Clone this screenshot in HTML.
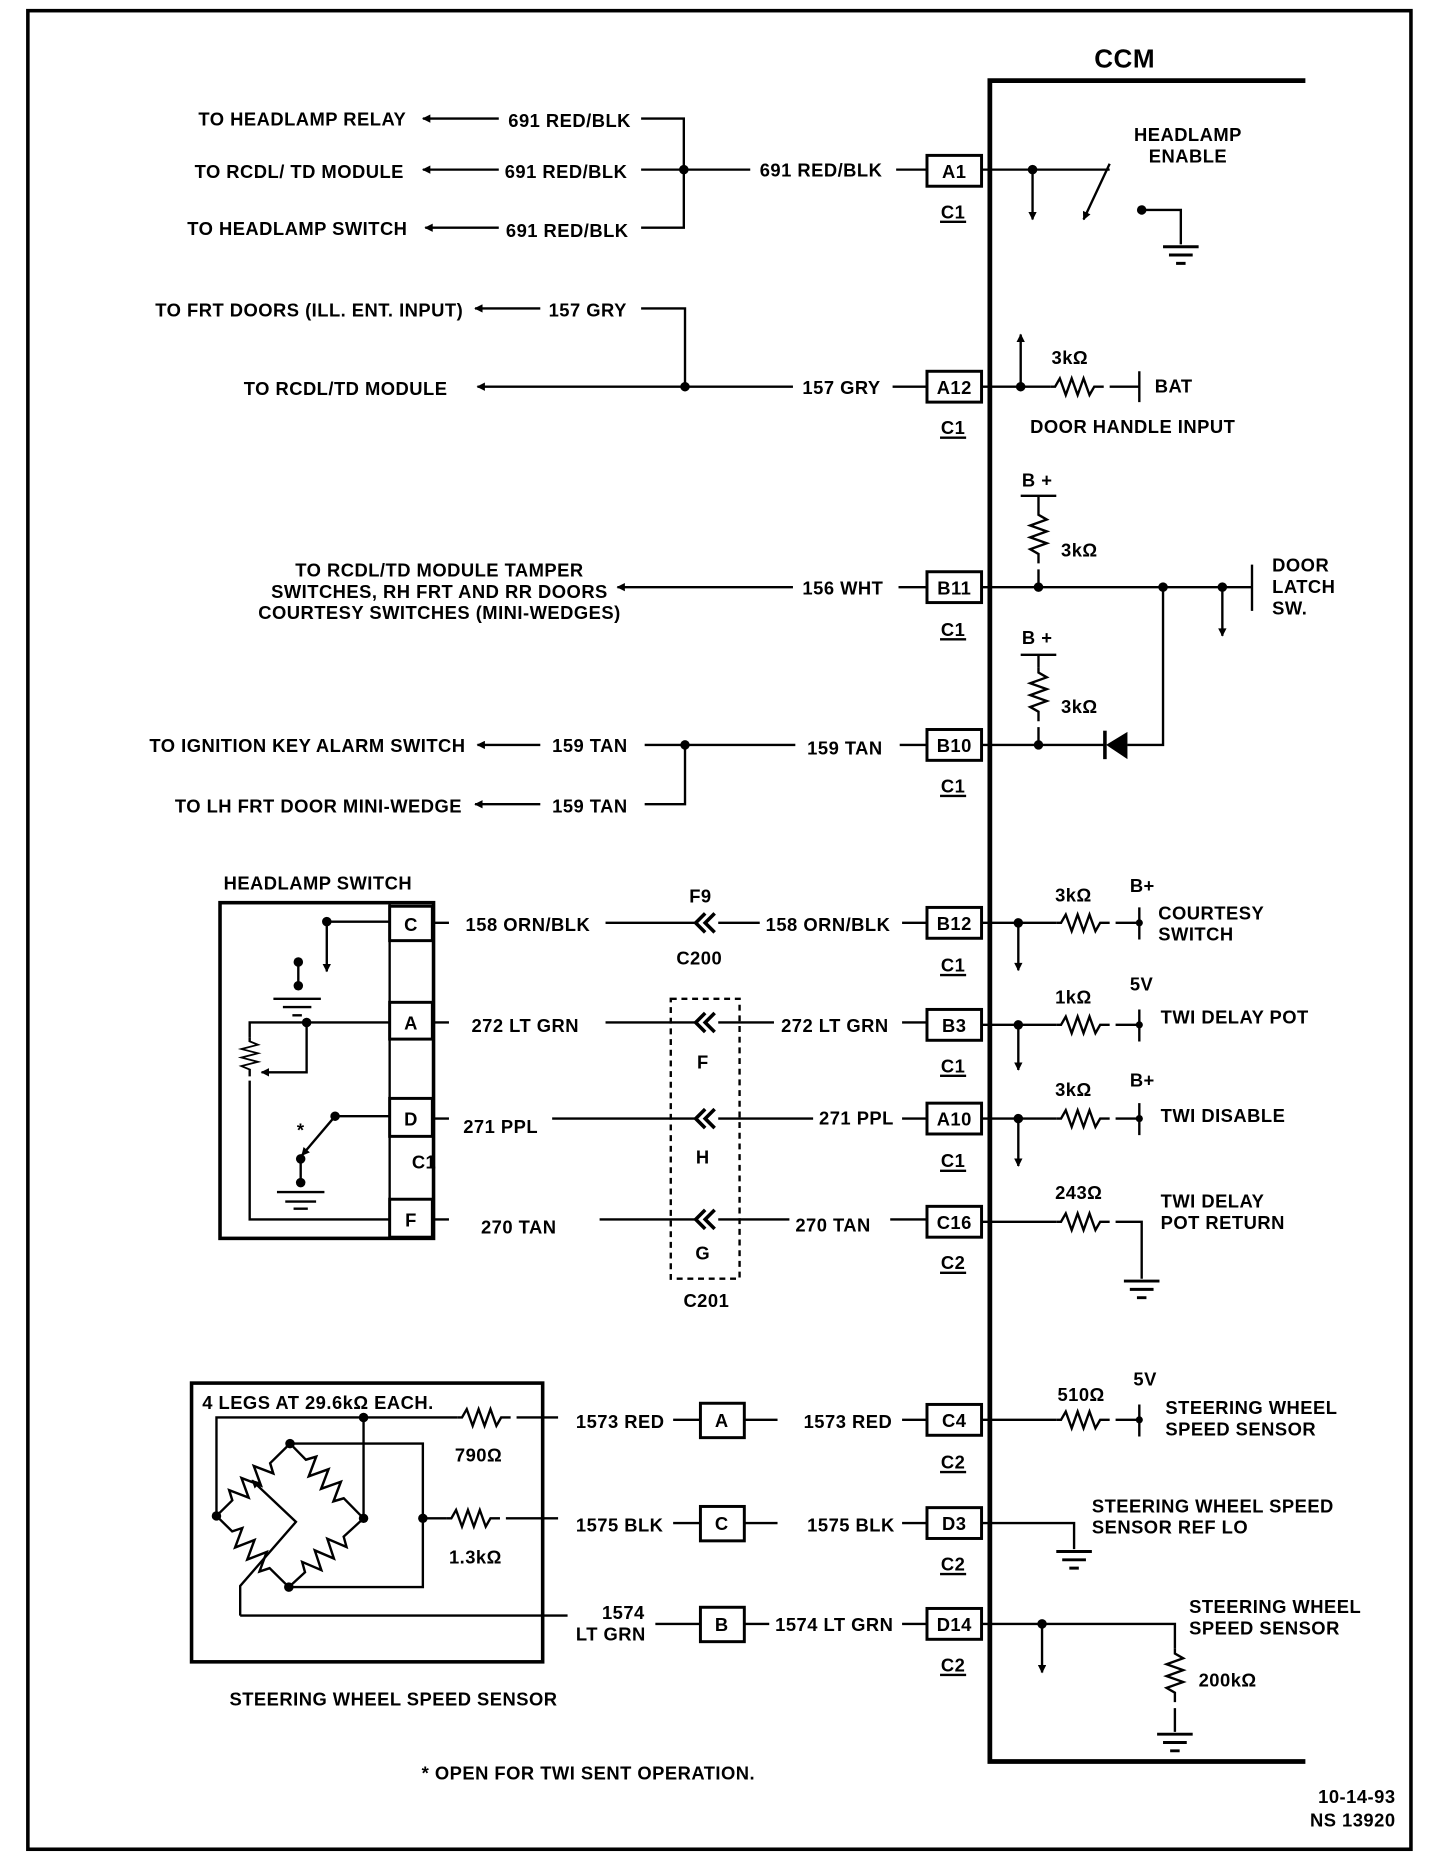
<!DOCTYPE html>
<html><head><meta charset="utf-8"><style>
html,body{margin:0;padding:0;background:#fff;}
svg{display:block;}
text{font-family:"Liberation Sans",sans-serif;font-weight:bold;font-size:15.5px;letter-spacing:0.4px;fill:#000;}
</style></head><body>
<svg width="1440" height="1854" viewBox="0 0 1213 1563" xmlns="http://www.w3.org/2000/svg">
<defs>
<marker id="ar" viewBox="0 0 10 10" refX="9" refY="5" markerWidth="9" markerHeight="7" orient="auto" markerUnits="userSpaceOnUse"><path d="M0 0L10 5L0 10z" fill="#000"/></marker>
<path id="zz" d="M0 0h4l4-7l5 14l5-14l5 14l5-14l5 14l4-7h8" fill="none" stroke="#000" stroke-width="2"/>
<path id="zl" d="M0 0h18l4-8l7 16l7-16l7 16l7-16l7 16l4-8h20" fill="none" stroke="#000" stroke-width="2"/>
<g id="gnd"><path d="M-15 0h30M-10 7h20M-4 14h8" stroke="#000" stroke-width="2.5"/></g>
<path id="chev" d="M10-8l-8 8l8 8M18-8l-8 8l8 8" fill="none" stroke="#000" stroke-width="3"/>
</defs>
<rect x="0" y="0" width="1213" height="1563" fill="#fff"/>
<rect x="23" y="9" width="1166" height="1550" fill="none" stroke="#000" stroke-width="3"/>
<g stroke="#000" stroke-width="2" fill="none">
<path d="M1100 68H834V1485H1100" stroke-width="4"/>
</g>
<text x="922" y="57" style="font-size:22px">CCM</text>

<g stroke="#000" stroke-width="2" fill="none">
<path d="M420 100H356" marker-end="url(#ar)"/>
<path d="M420 143H356" marker-end="url(#ar)"/>
<path d="M420 192H358" marker-end="url(#ar)"/>
<path d="M540 100H576V192H540M540 143H632M755 143H780"/>
<path d="M828 143H935"/>
<path d="M870 143V185" marker-end="url(#ar)"/>
<path d="M935 138L913 185" marker-end="url(#ar)"/>
<path d="M962 177H995V206"/>
<path d="M455 260H400" marker-end="url(#ar)"/>
<path d="M540 260H577V326M668 326H402" marker-end="url(#ar)"/>
<path d="M752 326H780M828 326H885M935 326H960M960 313V339"/>
<path d="M860 326V282" marker-end="url(#ar)"/>
<path d="M668 495H520" marker-end="url(#ar)"/>
<path d="M757 495H780M828 495H1055M1055 476V515M980 495V628H950"/>
<path d="M860 418H890M875 418V430M875 480V495"/>
<path d="M1030 495V536" marker-end="url(#ar)"/>
<path d="M455 628H402" marker-end="url(#ar)"/>
<path d="M455 678H400" marker-end="url(#ar)"/>
<path d="M543 628H670M543 678H577V628M758 628H780M828 628H932"/>
<path d="M860 552H890M875 552V563M875 613V628"/>
</g>
<path d="M950 617V640L932 628Z" fill="#000"/>
<path d="M931 616V640" stroke="#000" stroke-width="3"/>
<use href="#zz" transform="translate(885 326)"/>
<use href="#zz" transform="translate(875 430) rotate(90)"/>
<use href="#zz" transform="translate(875 563) rotate(90)"/>
<use href="#gnd" transform="translate(995 208)"/>
<g fill="#000">
<circle cx="576" cy="143" r="4"/><circle cx="870" cy="143" r="4"/><circle cx="962" cy="177" r="4"/>
<circle cx="577" cy="326" r="4"/><circle cx="860" cy="326" r="4"/>
<circle cx="875" cy="495" r="4"/><circle cx="980" cy="495" r="4"/><circle cx="1030" cy="495" r="4"/>
<circle cx="577" cy="628" r="4"/><circle cx="875" cy="628" r="4"/>
</g>
<text x="342" y="106" text-anchor="end">TO HEADLAMP RELAY</text>
<text x="340" y="150" text-anchor="end">TO RCDL/ TD  MODULE</text>
<text x="343" y="198" text-anchor="end">TO HEADLAMP SWITCH</text>
<text x="428" y="107">691 RED/BLK</text>
<text x="425" y="150">691 RED/BLK</text>
<text x="426" y="200">691 RED/BLK</text>
<text x="640" y="149">691 RED/BLK</text>
<text x="1001" y="119" text-anchor="middle">HEADLAMP</text>
<text x="1001" y="137" text-anchor="middle">ENABLE</text>
<text x="390" y="267" text-anchor="end">TO FRT DOORS (ILL. ENT. INPUT)</text>
<text x="462" y="267">157 GRY</text>
<text x="205" y="333">TO RCDL/TD MODULE</text>
<text x="676" y="332">157 GRY</text>
<text x="886" y="307">3kΩ</text>
<text x="973" y="331">BAT</text>
<text x="868" y="365">DOOR HANDLE INPUT</text>
<text x="370" y="486" text-anchor="middle">TO RCDL/TD MODULE TAMPER</text>
<text x="370" y="504" text-anchor="middle">SWITCHES, RH FRT AND RR DOORS</text>
<text x="370" y="522" text-anchor="middle">COURTESY SWITCHES (MINI-WEDGES)</text>
<text x="676" y="501">156 WHT</text>
<text x="861" y="410">B +</text>
<text x="894" y="469">3kΩ</text>
<text x="1072" y="482">DOOR</text>
<text x="1072" y="500">LATCH</text>
<text x="1072" y="518">SW.</text>
<text x="392" y="634" text-anchor="end">TO IGNITION KEY ALARM SWITCH</text>
<text x="465" y="634">159 TAN</text>
<text x="389" y="685" text-anchor="end">TO LH FRT DOOR MINI-WEDGE</text>
<text x="465" y="685">159 TAN</text>
<text x="680" y="636">159 TAN</text>
<text x="861" y="543">B +</text>
<text x="894" y="601">3kΩ</text>

<g fill="#fff" stroke="#000" stroke-width="2.5">
<rect x="781" y="131" width="46" height="26"/>
<rect x="781" y="313" width="46" height="26"/>
<rect x="781" y="482" width="46" height="26"/>
<rect x="781" y="615" width="46" height="26"/>
<rect x="781" y="765" width="46" height="26"/>
<rect x="781" y="851" width="46" height="26"/>
<rect x="781" y="930" width="46" height="26"/>
<rect x="781" y="1017" width="46" height="26"/>
<rect x="781" y="1184" width="46" height="26"/>
<rect x="781" y="1271" width="46" height="26"/>
<rect x="781" y="1356" width="46" height="26"/>
</g>
<g text-anchor="middle">
<text x="804" y="150">A1</text><text x="804" y="332">A12</text><text x="804" y="501">B11</text><text x="804" y="634">B10</text>
<text x="804" y="784">B12</text><text x="804" y="870">B3</text><text x="804" y="949">A10</text><text x="804" y="1036">C16</text>
<text x="804" y="1203">C4</text><text x="804" y="1290">D3</text><text x="804" y="1375">D14</text>
<text x="803" y="184">C1</text><text x="803" y="366">C1</text>
<text x="803" y="536">C1</text><text x="803" y="668">C1</text>
<text x="803" y="819">C1</text><text x="803" y="904">C1</text>
<text x="803" y="984">C1</text><text x="803" y="1070">C2</text>
<text x="803" y="1238">C2</text><text x="803" y="1324">C2</text>
<text x="803" y="1409">C2</text>
</g>
<g stroke="#000" stroke-width="2"><path d="M792 187h22M792 369h22M792 539h22M792 671h22M792 822h22M792 907h22M792 987h22M792 1073h22M792 1241h22M792 1327h22M792 1412h22"/></g>

<text x="188" y="750">HEADLAMP SWITCH</text>
<rect x="185" y="761" width="180" height="283" fill="none" stroke="#000" stroke-width="3"/>
<g stroke="#000" stroke-width="2" fill="none">
<path d="M328 761V1044"/>
<path d="M328 777H275"/>
<path d="M275 777V819" marker-end="url(#ar)"/>
<path d="M251 811V831M230 842h40M238 849h24M246 856h8"/>
<path d="M328 862H210V875M210 911V1028H328"/>
<path d="M258 862V904H220" marker-end="url(#ar)"/>
<path d="M328 941H282"/>
<path d="M282 941L254 974" marker-end="url(#ar)"/>
<path d="M253 977V997M233 1005h40M240 1013h26M247 1019h12"/>
</g>
<use href="#zz" transform="translate(210 875) rotate(90) scale(0.72 1)"/>
<g fill="#000"><circle cx="275" cy="777" r="4"/><circle cx="251" cy="811" r="4"/><circle cx="251" cy="831" r="4"/><circle cx="258" cy="862" r="4"/><circle cx="282" cy="941" r="4"/><circle cx="253" cy="977" r="4"/><circle cx="253" cy="997" r="4"/></g>
<text x="253" y="958" text-anchor="middle">*</text>
<g fill="#fff" stroke="#000" stroke-width="2.5">
<rect x="328" y="764" width="36" height="29"/><rect x="328" y="845" width="36" height="31"/>
<rect x="328" y="926" width="36" height="32"/><rect x="328" y="1011" width="36" height="32"/>
</g>
<g text-anchor="middle"><text x="346" y="785">C</text><text x="346" y="868">A</text><text x="346" y="949">D</text><text x="346" y="1034">F</text></g>
<text x="357" y="985" text-anchor="middle">C1</text>
<g stroke="#000" stroke-width="2" fill="none">
<path d="M364 778H378M510 778H586M605 778H640M760 778H780"/>
<path d="M364 862H378M510 862H586M605 862H652M760 862H780"/>
<path d="M364 943H378M465 943H586M605 943H685M760 943H780"/>
<path d="M364 1028H378M505 1028H586M605 1028H665M750 1028H780"/>
<rect x="565" y="842" width="58" height="236" stroke-dasharray="5 4"/>
</g>
<use href="#chev" transform="translate(584 778)"/><use href="#chev" transform="translate(584 862)"/>
<use href="#chev" transform="translate(584 943)"/><use href="#chev" transform="translate(584 1028)"/>
<text x="392" y="785">158 ORN/BLK</text><text x="645" y="785">158 ORN/BLK</text>
<text x="590" y="761" text-anchor="middle">F9</text><text x="589" y="813" text-anchor="middle">C200</text>
<text x="397" y="870">272 LT GRN</text><text x="658" y="870">272 LT GRN</text>
<text x="390" y="955">271 PPL</text><text x="690" y="948">271 PPL</text>
<text x="405" y="1040">270 TAN</text><text x="670" y="1038">270 TAN</text>
<g text-anchor="middle"><text x="592" y="901">F</text><text x="592" y="981">H</text><text x="592" y="1062">G</text><text x="595" y="1102">C201</text></g>

<g stroke="#000" stroke-width="2" fill="none">
<path d="M828 778H890M940 778H960M960 765V792"/>
<path d="M828 864H890M940 864H960M960 851V878"/>
<path d="M828 943H890M940 943H960M960 930V957"/>
<path d="M828 1030H890M940 1030H962V1078"/>
<path d="M858 778V818" marker-end="url(#ar)"/>
<path d="M858 864V902" marker-end="url(#ar)"/>
<path d="M858 943V983" marker-end="url(#ar)"/>
</g>
<use href="#zz" transform="translate(890 778)"/><use href="#zz" transform="translate(890 864)"/>
<use href="#zz" transform="translate(890 943)"/><use href="#zz" transform="translate(890 1030)"/>
<use href="#gnd" transform="translate(962 1080)"/>
<g fill="#000"><circle cx="858" cy="778" r="4"/><circle cx="858" cy="864" r="4"/><circle cx="858" cy="943" r="4"/><circle cx="960" cy="778" r="3"/><circle cx="960" cy="864" r="3"/><circle cx="960" cy="943" r="3"/></g>
<text x="889" y="760">3kΩ</text><text x="952" y="752">B+</text><text x="976" y="775">COURTESY</text><text x="976" y="793">SWITCH</text>
<text x="889" y="846">1kΩ</text><text x="952" y="835">5V</text><text x="978" y="863">TWI DELAY POT</text>
<text x="889" y="924">3kΩ</text><text x="952" y="916">B+</text><text x="978" y="946">TWI DISABLE</text>
<text x="889" y="1011">243Ω</text><text x="978" y="1018">TWI DELAY</text><text x="978" y="1036">POT RETURN</text>

<rect x="161" y="1166" width="296" height="235" fill="none" stroke="#000" stroke-width="3"/>
<text x="170" y="1188">4 LEGS AT 29.6kΩ EACH.</text>
<g stroke="#000" stroke-width="2" fill="none">
<path d="M182 1278V1195H385M435 1195H470"/>
<path d="M306 1195V1280"/>
<path d="M244 1217H356V1338H243M356 1280H376M426 1280H470"/>
<path d="M202 1362V1337L249 1283L212 1248" marker-end="url(#ar)"/>
<path d="M202 1362H478"/>
</g>
<use href="#zl" transform="translate(182 1278) rotate(-44.5) scale(1.04 1)"/>
<use href="#zl" transform="translate(244 1217) rotate(45.5) scale(1.06 1)"/>
<use href="#zl" transform="translate(182 1278) rotate(44.5) scale(1.03 1)"/>
<use href="#zl" transform="translate(243 1338) rotate(-42.6) scale(1.03 1)"/>
<use href="#zz" transform="translate(385 1195)"/><use href="#zz" transform="translate(376 1280)"/>
<g fill="#000"><circle cx="306" cy="1195" r="4"/><circle cx="244" cy="1217" r="4"/><circle cx="182" cy="1278" r="4"/><circle cx="306" cy="1280" r="4"/><circle cx="356" cy="1280" r="4"/><circle cx="243" cy="1338" r="4"/></g>
<text x="383" y="1232">790Ω</text><text x="378" y="1318">1.3kΩ</text>
<g stroke="#000" stroke-width="2" fill="none">
<path d="M567 1197H590M627 1197H655M760 1197H780"/>
<path d="M567 1284H590M627 1284H655M760 1284H780"/>
<path d="M552 1369H590M627 1369H648M760 1369H780"/>
<path d="M828 1197H890M940 1197H960M960 1184V1211"/>
<path d="M828 1284H905V1306"/>
<path d="M828 1369H990V1390M990 1440V1460"/>
<path d="M878 1369V1410" marker-end="url(#ar)"/>
</g>
<g fill="#fff" stroke="#000" stroke-width="2.5">
<rect x="590" y="1183" width="37" height="29"/><rect x="590" y="1270" width="37" height="29"/><rect x="590" y="1355" width="37" height="29"/>
</g>
<g text-anchor="middle"><text x="608" y="1203">A</text><text x="608" y="1290">C</text><text x="608" y="1375">B</text></g>
<use href="#zz" transform="translate(890 1197)"/>
<use href="#zz" transform="translate(990 1390) rotate(90)"/>
<use href="#gnd" transform="translate(905 1308)"/><use href="#gnd" transform="translate(990 1462)"/>
<g fill="#000"><circle cx="878" cy="1369" r="4"/><circle cx="960" cy="1197" r="3"/></g>
<text x="485" y="1204">1573 RED</text><text x="677" y="1204">1573 RED</text>
<text x="485" y="1291">1575 BLK</text><text x="680" y="1291">1575 BLK</text>
<text x="507" y="1365">1574</text><text x="485" y="1383">LT GRN</text><text x="653" y="1375">1574 LT GRN</text>
<text x="891" y="1181">510Ω</text><text x="955" y="1168">5V</text>
<text x="982" y="1192">STEERING WHEEL</text><text x="982" y="1210">SPEED SENSOR</text>
<text x="920" y="1275">STEERING WHEEL SPEED</text><text x="920" y="1293">SENSOR REF LO</text>
<text x="1002" y="1360">STEERING WHEEL</text><text x="1002" y="1378">SPEED SENSOR</text>
<text x="1010" y="1422">200kΩ</text>
<text x="193" y="1438">STEERING WHEEL SPEED SENSOR</text>
<text x="355" y="1500">* OPEN FOR TWI SENT OPERATION.</text>
<text x="1176" y="1520" text-anchor="end">10-14-93</text>
<text x="1176" y="1540" text-anchor="end">NS 13920</text>
</svg>
</body></html>
